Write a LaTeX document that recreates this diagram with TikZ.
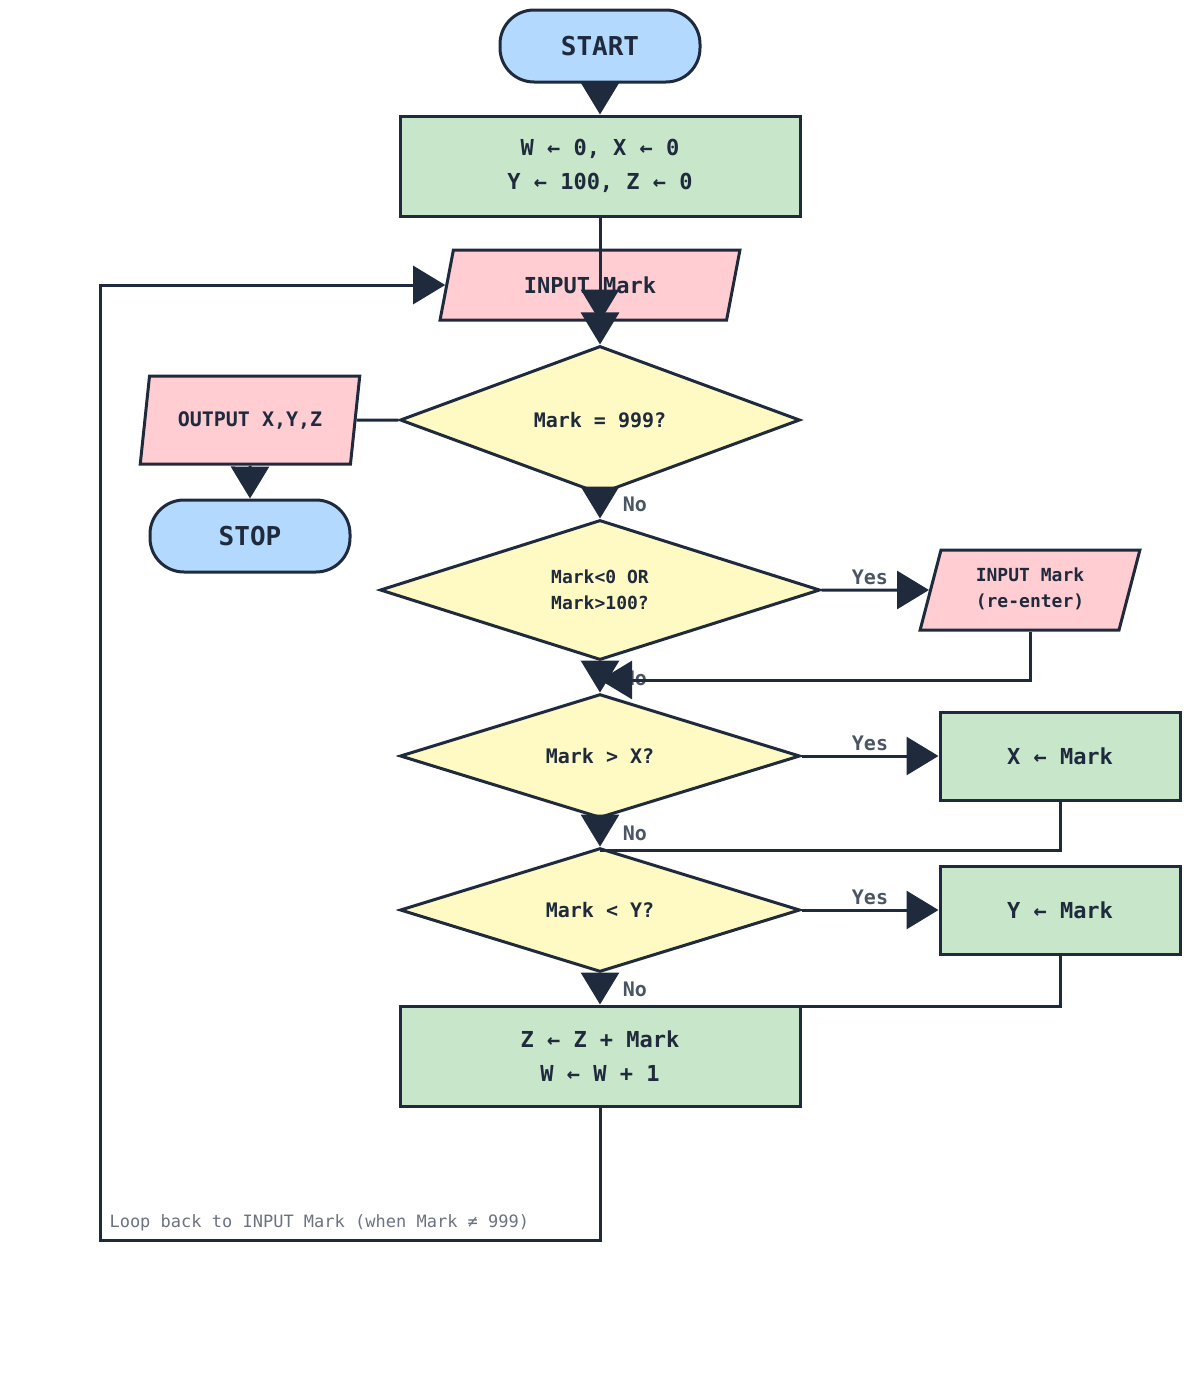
\documentclass[tikz,border=0pt]{standalone}
\usepackage{fontspec}
\setmonofont{DejaVu Sans Mono}
\usetikzlibrary{shapes.geometric,arrows.meta}
\definecolor{ink}{HTML}{1F2A3D}
\definecolor{termfill}{HTML}{B3D9FF}
\definecolor{procfill}{HTML}{C8E6C9}
\definecolor{iofill}{HTML}{FFCDD2}
\definecolor{decfill}{HTML}{FFF9C4}
\definecolor{lblgray}{HTML}{4B5563}
\definecolor{notegray}{HTML}{6B7280}
\begin{document}
\begin{tikzpicture}[x=1pt,y=-1pt]
  \tikzset{
    term/.style={rounded corners=34pt, draw=ink, line width=3pt, fill=termfill, minimum width=200pt, minimum height=72pt, font=\ttfamily\bfseries\fontsize{26}{30}\selectfont, text=ink},
    proc/.style={draw=ink, line width=3pt, fill=procfill, align=center, font=\ttfamily\bfseries\fontsize{22}{34}\selectfont, text=ink},
    io/.style={trapezium, trapezium left angle=74, trapezium right angle=106, trapezium stretches=true, draw=ink, line width=3pt, fill=iofill, align=center, text=ink},
    dec/.style={diamond, draw=ink, line width=3pt, fill=decfill, inner sep=0pt, align=center, font=\ttfamily\bfseries\fontsize{20}{26}\selectfont, text=ink},
    fleche/.style={draw=ink, line width=3pt, -{Triangle[width=38pt,length=32pt]}},
    trait/.style={draw=ink, line width=3pt},
    lbl/.style={text=lblgray, font=\ttfamily\bfseries\fontsize{20}{24}\selectfont}
  }
  \useasboundingbox (0,0) rectangle (1200,1400);

  \node[term] (start) at (600,46) {START};
  \node[proc, minimum width=400pt, minimum height=100pt] (init) at (600,166) {W ← 0, X ← 0\\Y ← 100, Z ← 0};
  \node[io, minimum width=300pt, minimum height=70pt, font=\ttfamily\bfseries\fontsize{22}{26}\selectfont] (input) at (590,285) {INPUT Mark};
  \node[dec, minimum width=400pt, minimum height=128pt] (end) at (600,420) {Mark = 999?};
  \node[io, minimum width=220pt, minimum height=88pt, font=\ttfamily\bfseries\fontsize{20}{24}\selectfont] (output) at (250,420) {OUTPUT X,Y,Z};
  \node[term] (stop) at (250,536) {STOP};
  \node[dec, minimum width=440pt, minimum height=140pt, font=\ttfamily\bfseries\fontsize{18}{26}\selectfont] (range) at (600,590) {Mark<0 OR\\Mark>100?};
  \node[io, minimum width=220pt, minimum height=80pt, font=\ttfamily\bfseries\fontsize{18}{26}\selectfont] (reenter) at (1030,590) {\\[-14pt]INPUT Mark\\(re-enter)};
  \node[dec, minimum width=400pt, minimum height=120pt] (high) at (600,756) {Mark > X?};
  \node[proc, minimum width=240pt, minimum height=88pt] (setx) at (1060,756) {X ← Mark};
  \node[dec, minimum width=400pt, minimum height=120pt] (low) at (600,910) {Mark < Y?};
  \node[proc, minimum width=240pt, minimum height=88pt] (sety) at (1060,910) {Y ← Mark};
  \node[proc, minimum width=400pt, minimum height=100pt] (total) at (600,1056) {Z ← Z + Mark\\W ← W + 1};

  \coordinate (j1) at (600,680);
  \coordinate (j2) at (600,850);
  \coordinate (j3) at (800,1006);
  \coordinate (loop) at (100,1240);

  % main line
  \draw[fleche] (start) -- (init);
  \draw[fleche] (init) -- (input.south -| init);
  \draw[fleche] (input.south -| end) -- (end);
  \draw[trait] (end) -- (output);
  \draw[fleche] (output) -- (stop);
  \draw[fleche] (end) -- node[lbl, pos=0.4, right=18pt] {No} (range);
  \draw[fleche] (range) -- node[lbl, pos=0.55, right=18pt] {No} (high);
  \draw[fleche] (range) -- node[lbl, above, pos=0.45] {Yes} (reenter);
  \draw[fleche] (reenter.south -| 1030,0) |- (j1);
  \draw[fleche] (high) -- node[lbl, above, pos=0.5] {Yes} (setx);
  \draw[fleche] (high) -- node[lbl, pos=0.5, right=18pt] {No} (low);
  \draw[trait] (setx) |- (j2);
  \draw[fleche] (low) -- node[lbl, above, pos=0.5] {Yes} (sety);
  \draw[fleche] (low) -- node[lbl, pos=0.5, right=18pt] {No} (total);
  \draw[trait] (sety) |- (j3);

  % loop back
  \draw[fleche] (total) |- (loop) |- (input.west);
  \node[anchor=west, text=notegray, font=\ttfamily\fontsize{17}{20}\selectfont] (note) at (106,1223) {Loop back to INPUT Mark (when Mark ≠ 999)};
\end{tikzpicture}
\end{document}
